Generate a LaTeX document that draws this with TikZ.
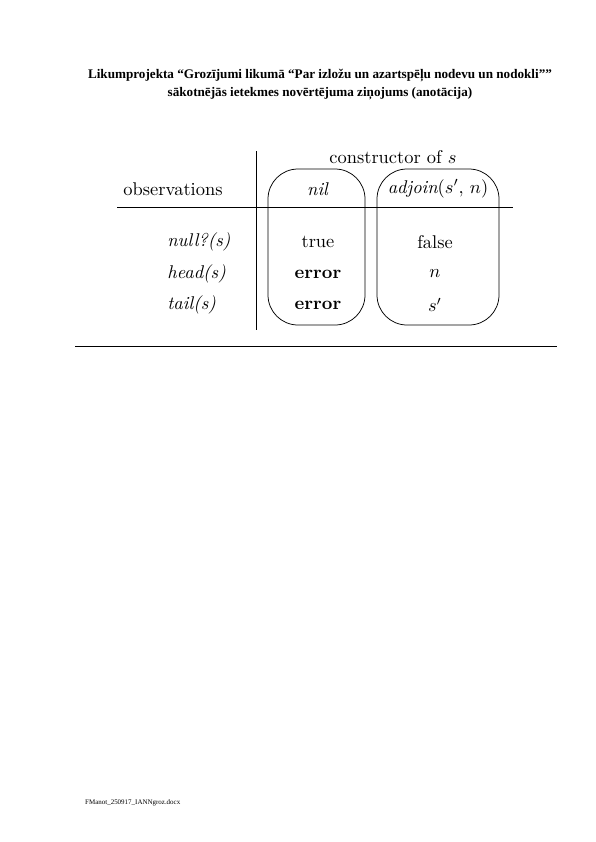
\documentclass[tikz,border=0pt]{standalone}
\usepackage{fontspec}
\newfontfamily\timesfont{Liberation Serif}
\tikzset{
  cell/.style={inner sep=0pt, font=\fontsize{10}{12}\selectfont, scale=1.85, transform shape},
  rowlabel/.style={cell, anchor=west},
  consbox/.style={draw, line width=0.75pt, rounded corners=30bp},
  rule/.style={line width=0.75pt}
}
\begin{document}
\begin{tikzpicture}[x=1bp, y=-1bp]
    \useasboundingbox[fill=white] (0,0) rectangle (596,842);
    % heading of the page
    \node[font=\timesfont\bfseries\fontsize{13.2}{18}\selectfont, align=center] (title) at (320,85)
      {Likumprojekta “Grozījumi likumā “Par izložu un azartspēļu nodevu un nodokli””\\
       sākotnējās ietekmes novērtējuma ziņojums (anotācija)};
    % table
    \coordinate (vtop) at (256,151);
    \coordinate (vbot) at (256,330);
    \coordinate (hl) at (117,207);
    \coordinate (hr) at (513,207);
    \draw [rule] (vtop) -- (vbot);
    \draw [rule] (hl) -- (hr);
    \draw [consbox] (268,169) rectangle (365,325);
    \draw [consbox] (377,169) rectangle (499,325);
    \node [cell] (cons) at (393,157) {constructor of $s$};
    \node [cell] (obs) at (173,189) {observations};
    \node [cell] (nil) at (318,189) {\textit{nil}};
    \node [cell] (adj) at (438,189) {$\mathit{adjoin}(s',\, n)$};
    \node [rowlabel] (null) at (167,242) {\textit{null?(s)}};
    \node [rowlabel] (head) at (167,274) {\textit{head(s)}};
    \node [rowlabel] (tail) at (167,305) {\textit{tail(s)}};
    \node [cell] (nulla) at (318,242) {true};
    \node [cell] (heada) at (318,274) {\textbf{error}};
    \node [cell] (taila) at (318,305) {\textbf{error}};
    \node [cell] (nullb) at (435,242) {false};
    \node [cell] (headb) at (435,274) {$n$};
    \node [cell] (tailb) at (435,305) {$s'$};
    % rule under the picture
    \coordinate (bl) at (75,346);
    \coordinate (br) at (557,346);
    \draw [line width=0.6pt] (bl) -- (br);
    % footer
    \node [anchor=west, inner sep=0pt, font=\timesfont\fontsize{7}{8}\selectfont] (foot) at (85,803)
      {FManot\_250917\_IANNgroz.docx};
  \end{tikzpicture}
\end{document}
